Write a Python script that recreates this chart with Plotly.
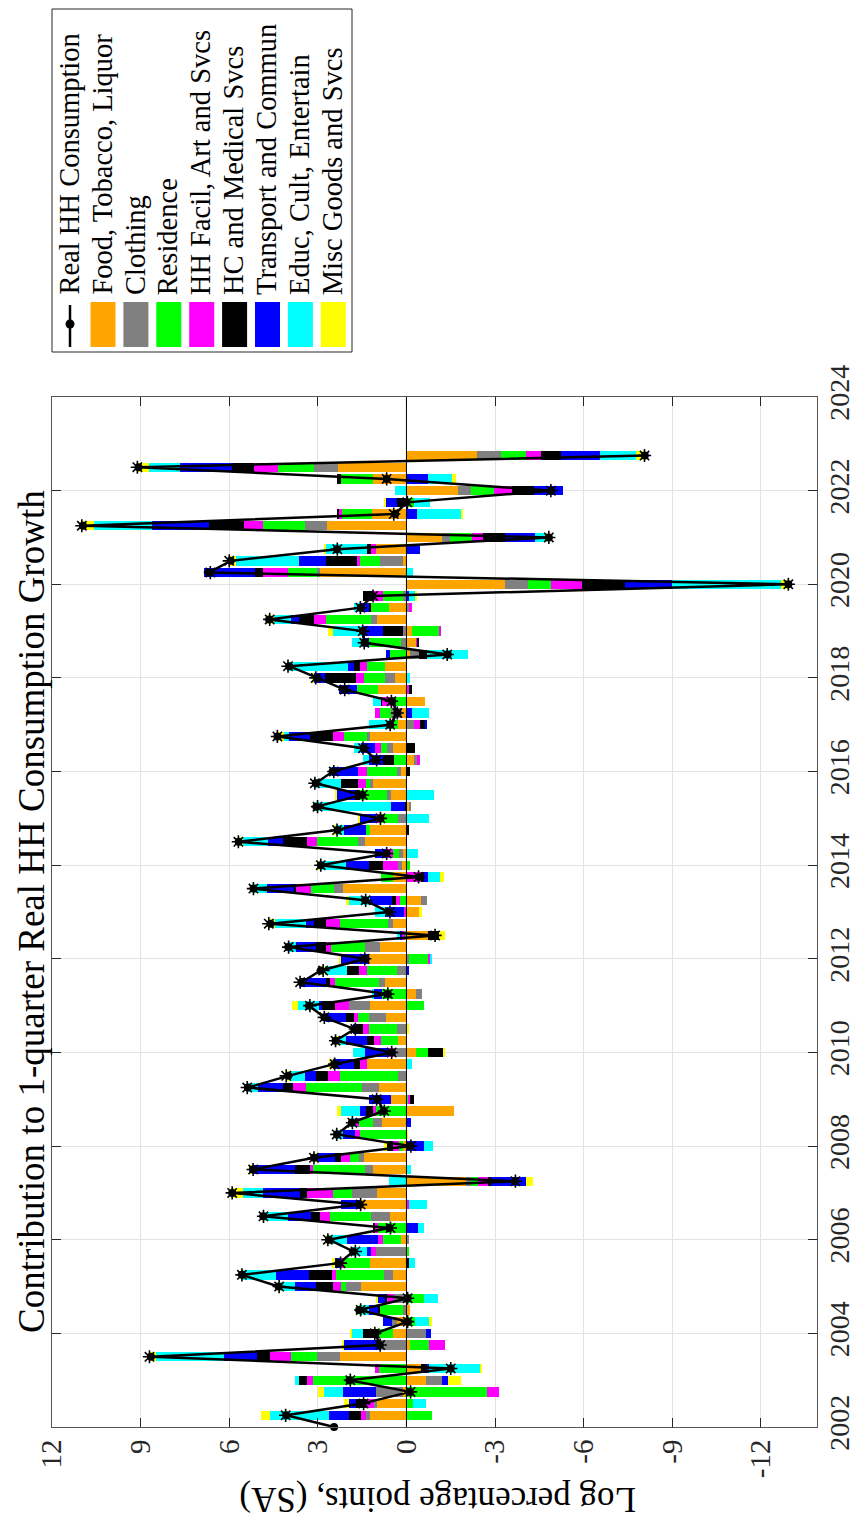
import plotly.graph_objects as go

# Quarterly periods 2002Q1 .. 2022Q4, plotted at year + (quarter-1)/4
periods = [f"{y}Q{q}" for y in range(2002, 2023) for q in range(1, 5)]
t = [int(p[:4]) + (int(p[-1]) - 1) / 4 for p in periods]

# Real household consumption growth, log percentage points (SA)
real_hh = [2.45, 4.07, 1.5, -0.12, 1.93, -1.5, 8.65, 0.9, 1.05, -0.05, 1.6, -0.04,
           4.33, 5.57, 2.28, 1.8, 2.62, 0.58, 4.85, 1.58, 5.9, -3.68, 5.2, 3.13,
           -0.12, 2.35, 1.85, 0.77, 0.98, 5.37, 4.0, 2.45, 0.49, 2.4, 1.75, 2.78,
           3.3, 0.63, 3.55, 2.9, 1.38, 4.0, -0.95, 4.6, 0.6, 1.4, 5.18, -0.42,
           2.9, 0.67, 5.68, 2.33, 0.88, 3.05, 1.5, 3.07, 2.5, 1.03, 1.45, 4.37,
           0.55, 0.31, 0.48, 2.1, 3.02, 3.97, -1.4, 1.42, 1.48, 4.65, 1.55, 1.15,
           -12.93, 6.7, 5.95, 2.35, -4.82, 10.95, 0.38, 0.0, -4.9, 0.67, 9.07, -8.07]

# Contributions by expenditure category (first quarter not available)
food = [None, 1.23, 1.0, 0.1, -0.65, -0.48, 2.25, -0.12, 0.47, 0.32, -0.12, 0.0,
        1.53, 0.47, 1.23, 0.03, 0.18, 0.0, 0.57, 1.55, 1.0, -2.03, 1.13, 1.43,
        0.1, 0.0, 0.83, -1.6, 0.53, 0.93, 0.0, 1.32, -0.33, 0.28, 0.0, 0.7,
        1.23, -0.32, 0.73, 0.0, 1.27, 0.9, -0.73, 0.47, -0.42, -0.48, 2.15, 0.47,
        0.15, 0.12, 1.4, 1.23, 0.0, -0.07, 0.53, 1.13, 0.2, -0.27, 0.45, 1.23,
        0.28, 0.15, -0.63, 0.97, 0.4, 0.73, -0.13, -0.33, -0.2, 0.98, 0.6, 0.0,
        -3.33, 2.93, 0.13, 1.02, -1.22, 2.7, 1.15, 0.0, -1.73, 1.12, 2.32, -2.38]
clothing = [None, 0.13, 0.1, 0.93, -0.57, 0.0, 0.77, 0.87, -0.67, 0.17, 0.1, 0.43,
            0.53, 0.3, 0.0, 1.0, -0.07, 0.0, 0.63, 0.0, 0.85, -0.15, 0.27, 0.17,
            0.0, 0.0, 0.3, 0.0, 0.0, 0.58, 0.3, 0.0, 0.47, 0.0, 0.32, 0.57,
            0.7, -0.22, 0.2, 0.33, -0.1, 0.5, 0.0, 0.17, 0.0, -0.2, 0.3, 0.0,
            0.12, 0.13, 0.25, 0.0, 0.28, -0.1, 0.12, 0.1, 0.12, -0.08, 0.2, 0.12,
            -0.27, 0.38, 0.0, 0.0, 0.32, 0.0, -0.3, 0.18, 0.13, 0.22, -0.1, 0.1,
            -0.8, 0.1, 0.77, 0.0, -0.27, 0.75, 0.0, 0.0, -0.45, 0.0, 0.8, -0.83]
residence = [None, -0.85, -0.22, -2.73, 3.15, 0.93, 0.88, -0.65, 0.47, -0.3, 0.8, -0.6,
             0.17, 1.62, 0.88, -0.07, 0.63, 0.97, 1.4, 0.0, 0.63, -0.25, 1.78, 0.3,
             0.15, 1.57, 0.47, 1.03, -0.07, 1.88, 1.95, 0.0, -0.4, 0.58, 0.95, 0.38,
             -0.6, 0.82, 1.5, 1.0, -0.63, 1.17, 0.05, 1.6, 0.0, 0.23, 0.78, 0.38,
             -0.13, 0.22, 1.38, 0.13, 0.58, 0.0, 0.92, 0.13, 1.0, 0.43, 0.2, 0.75,
             0.28, 0.37, 0.47, 0.72, 0.73, 0.6, 0.57, 1.1, -0.93, 1.53, 0.6, 0.68,
             -0.77, 0.98, 0.67, 0.0, -0.73, 1.4, 1.02, -0.27, -0.78, 1.1, 1.22, -0.83]
hh_facil = [None, 0.18, 0.27, -0.42, 0.2, 0.13, 0.73, -0.53, 0.0, 0.0, 0.0, 0.22,
            0.27, 0.12, 0.12, 0.17, 0.15, 0.12, 0.33, -0.1, 0.87, -0.33, 0.08, 0.33,
            0.2, 0.17, 0.13, 0.1, -0.05, 0.45, 0.42, 0.25, 0.17, 0.25, 0.2, 0.13,
            0.5, 0.0, 0.17, 0.27, -0.07, 0.17, 0.13, 0.5, 0.08, 0.13, 0.5, -0.5,
            0.52, 0.18, 0.35, 0.0, 0.17, 0.0, 0.0, 0.27, 0.32, -0.1, 0.22, 0.37,
            -0.2, 0.17, 0.37, -0.1, 0.27, 0.23, 0.0, -0.03, -0.05, 0.4, -0.1, 0.32,
            -1.03, 0.85, 0.12, 0.18, -0.38, 0.65, 0.13, 0.05, -0.63, 0.0, 0.83, -0.52]
hc_medical = [None, 0.42, 0.33, 0.0, 0.28, -0.22, 0.42, 0.0, 0.53, 0.0, 0.07, 0.08,
              0.55, 0.78, -0.1, 0.0, 0.0, 0.05, 0.3, 0.0, 0.27, -0.1, 0.53, 0.2,
              0.2, 0.0, 0.0, 0.23, -0.13, 0.35, 0.4, 0.22, -0.53, 0.22, 0.27, 0.28,
              0.42, 0.0, 0.13, 0.42, 0.0, 0.33, -0.37, 0.4, 0.0, 0.12, 0.08, -0.1,
              0.48, 0.0, 0.8, -0.07, 0.0, 0.05, 0.17, 0.57, -0.13, 0.35, -0.3, 0.8,
              -0.17, 0.0, 0.03, -0.1, 1.05, 0.22, -0.27, -0.07, 0.65, 0.52, 0.08, 0.38,
              -1.47, 0.28, 1.02, 0.12, -0.72, 1.2, 0.05, 0.27, -0.72, 0.13, 0.73, -0.67]
transport = [None, 0.67, 0.25, 1.13, -0.17, -0.08, 1.13, 1.25, -0.17, 0.32, 0.3, 0.25,
             0.73, 1.12, 0.2, 0.12, 1.05, -0.4, 0.78, 0.68, 1.25, -1.18, 1.43, 0.6,
             -0.6, 0.4, -0.15, 0.2, 0.73, 0.83, 0.37, 0.7, 0.77, 0.72, 0.07, 0.67,
             0.12, 0.3, 0.87, -0.07, 0.97, 0.67, 0.05, 0.27, 0.58, 0.75, 0.92, -0.13,
             0.78, 0.42, 0.52, 0.75, 0.57, 0.47, 0.62, 0.0, 0.9, 0.48, 0.47, 0.72,
             -0.07, -0.18, 0.0, 0.6, 0.35, 0.2, 0.12, 0.2, 0.7, 0.25, 0.28, -0.07,
             -1.58, 1.72, 0.92, -0.45, -1.03, 1.9, -0.37, 0.37, -0.98, -0.72, 1.78, -1.33]
educ_cult = [None, 1.98, -0.43, 0.62, 0.13, -1.7, 2.3, 0.0, 0.37, -0.47, 0.35, -0.47,
             0.48, 1.13, -0.2, 0.48, 0.67, -0.2, 0.8, -0.58, 0.68, 0.6, -0.15, 0.0,
             -0.3, 0.27, 0.17, 0.67, 0.0, 0.37, 0.5, -0.18, 0.4, 0.3, 0.0, 0.05,
             0.7, 0.05, 0.0, 0.75, -0.08, 0.25, 0.1, 1.03, 0.42, 0.7, 0.45, -0.4,
             0.88, -0.4, 0.82, 0.28, -0.75, 2.58, -0.93, 0.9, 0.05, 0.2, 0.23, 0.15,
             0.7, -0.58, 0.27, 0.0, -0.13, 2.03, -1.37, 0.38, 1.0, 0.58, 0.2, -0.23,
             -3.7, -0.22, 2.15, 1.42, -0.42, 1.97, -1.5, -0.53, 0.4, -0.83, 1.05, -1.2]
misc_goods = [None, 0.33, 0.15, 0.23, -0.47, -0.08, 0.22, 0.07, 0.07, -0.08, 0.05, 0.05,
              0.05, 0.03, 0.1, 0.0, 0.05, 0.0, 0.03, 0.0, 0.35, -0.25, 0.12, 0.1,
              0.1, -0.05, 0.08, 0.12, 0.0, 0.0, 0.13, 0.12, -0.05, 0.05, -0.08, 0.0,
              0.2, 0.0, 0.0, 0.12, 0.05, 0.0, -0.2, 0.22, -0.1, 0.13, 0.0, -0.13,
              0.1, 0.0, 0.17, 0.03, 0.03, 0.08, 0.05, 0.0, 0.0, 0.0, 0.0, 0.23,
              0.0, 0.0, 0.0, 0.0, 0.08, 0.0, 0.0, 0.0, 0.18, 0.15, 0.0, -0.05,
              -0.25, 0.0, 0.22, 0.05, -0.05, 0.42, -0.05, 0.08, 0.0, -0.13, 0.38, -0.3]

components = [
    ("Food, Tobacco, Liquor", food, "#FFA500"),
    ("Clothing", clothing, "#808080"),
    ("Residence", residence, "#00FF00"),
    ("HH Facil, Art and Svcs", hh_facil, "#FF00FF"),
    ("HC and Medical Svcs", hc_medical, "#000000"),
    ("Transport and Commun", transport, "#0000FF"),
    ("Educ, Cult, Entertain", educ_cult, "#00FFFF"),
    ("Misc Goods and Svcs", misc_goods, "#FFFF00"),
]

# Sum of the category contributions for each quarter (None where not available)
contrib_sum = []
for i in range(len(t)):
    parts = [vals[i] for _, vals, _ in components]
    contrib_sum.append(None if any(p is None for p in parts) else sum(parts))

value_ticks = [-12, -9, -6, -3, 0, 3, 6, 9, 12]
value_ticktext = ["-12", "-9", "-6", "-3", "0", "3", "6", "9", "12"]
year_ticks = list(range(2002, 2025, 2))

FONT = "Liberation Serif"
INK = "#262626"

# Page geometry (pixels) of the plotting box
L, R, T, B = 52, 817, 397, 1427
W, H = R - L, B - T


def fx(px):
    return (px - L) / W


def fy(py):
    return (B - py) / H


fig = go.Figure()

for name, vals, color in components:
    fig.add_trace(go.Bar(
        x=vals, y=t, orientation="h", width=0.2, name=name,
        marker=dict(color=color, line=dict(width=0)),
        showlegend=False,
    ))

# headline series: solid line with dot markers
fig.add_trace(go.Scatter(
    x=real_hh, y=t, mode="lines+markers", name="Real HH Consumption",
    line=dict(color="black", width=2.5),
    marker=dict(symbol="circle", size=8, color="black"),
    cliponaxis=False, showlegend=False,
))
# summed contributions shown as asterisks
fig.add_trace(go.Scatter(
    x=contrib_sum, y=t, mode="markers", name="Sum of contributions",
    marker=dict(symbol="asterisk-open", size=11, color="black",
                line=dict(color="black", width=1.6)),
    cliponaxis=False, showlegend=False,
))

fig.update_layout(
    width=856, height=1522,
    margin=dict(l=L, r=856 - R, t=T, b=1522 - B, autoexpand=False),
    paper_bgcolor="white", plot_bgcolor="white",
    barmode="relative", bargap=0,
    font=dict(family=FONT, color=INK),
)

fig.update_xaxes(
    range=[12, -13.9], tickvals=value_ticks, ticktext=value_ticktext,
    tickangle=-90, tickfont=dict(size=29, family=FONT, color=INK),
    ticks="inside", ticklen=9, tickcolor=INK, mirror="ticks",
    showline=True, linecolor="#555555", linewidth=1,
    showgrid=True, gridcolor="#e3e3e3", gridwidth=1,
    zeroline=False, automargin=False,
)
fig.update_yaxes(
    range=[2002, 2024], tickvals=year_ticks, side="right",
    tickangle=-90, tickfont=dict(size=28, family=FONT, color=INK),
    ticklabelstandoff=-3,
    ticks="inside", ticklen=9, tickcolor=INK, mirror="ticks",
    showline=True, linecolor="#555555", linewidth=1,
    showgrid=True, gridcolor="#e3e3e3", gridwidth=1,
    zeroline=False, automargin=False,
)

shapes = []
# bar baseline at zero
shapes.append(dict(type="line", xref="x", yref="paper", x0=0, x1=0, y0=0, y1=1,
                   line=dict(color="black", width=1), layer="above"))

annotations = []
# title, rotated
annotations.append(dict(
    text="Contribution to 1-quarter Real HH Consumption Growth",
    xref="paper", yref="paper", x=fx(31), y=fy(912),
    xanchor="center", yanchor="middle", textangle=-90, showarrow=False,
    font=dict(size=37, family=FONT, color="black"),
))
# value-axis label, upside down
annotations.append(dict(
    text="Log percentage points, (SA)",
    xref="paper", yref="paper", x=fx(438), y=fy(1500),
    xanchor="center", yanchor="middle", textangle=180, showarrow=False,
    font=dict(size=35, family=FONT, color="black"),
))

# legend box drawn by hand so that it can be rotated
shapes.append(dict(type="rect", xref="paper", yref="paper",
                   x0=fx(52), x1=fx(352), y0=fy(352), y1=fy(9),
                   line=dict(color=INK, width=1), fillcolor="white", layer="above"))
# line entry
shapes.append(dict(type="line", xref="paper", yref="paper",
                   x0=fx(70), x1=fx(70), y0=fy(347), y1=fy(305),
                   line=dict(color="black", width=2.5), layer="above"))
shapes.append(dict(type="circle", xref="paper", yref="paper",
                   x0=fx(65.5), x1=fx(74.5), y0=fy(328.5), y1=fy(319.5),
                   fillcolor="black", line=dict(color="black", width=0), layer="above"))
legend_x = [70]
legend_labels = ["Real HH Consumption"]
for i, (name, vals, color) in enumerate(components):
    cx = 103 + 32.9 * i
    shapes.append(dict(type="rect", xref="paper", yref="paper",
                       x0=fx(cx - 12.5), x1=fx(cx + 12.5), y0=fy(347), y1=fy(302),
                       fillcolor=color, line=dict(width=0), layer="above"))
    legend_x.append(cx)
    legend_labels.append(name)
for cx, lab in zip(legend_x, legend_labels):
    annotations.append(dict(
        text=lab, xref="paper", yref="paper", x=fx(cx - 1), y=fy(297),
        xanchor="center", yanchor="bottom", textangle=-90, showarrow=False,
        font=dict(size=28.5, family=FONT, color="black"),
    ))

fig.update_layout(shapes=shapes, annotations=annotations)

fig.write_html("out.html")
